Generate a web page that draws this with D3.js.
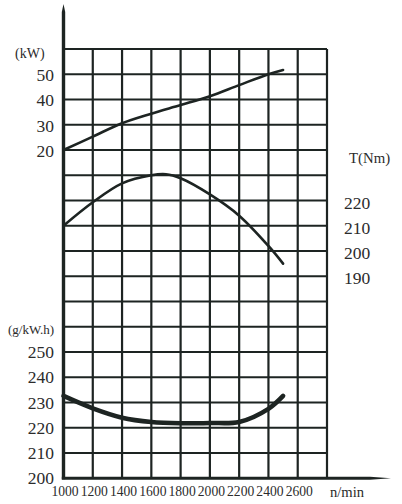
<!DOCTYPE html>
<html>
<head>
<meta charset="utf-8">
<script src="https://cdn.jsdelivr.net/npm/d3@7"></script>
<style>
  html, body { margin: 0; padding: 0; background: #fff; }
  svg { display: block; }
  text { font-family: "Liberation Serif", "Times New Roman", serif; fill: #2b2b2b; }
</style>
</head>
<body>
<svg id="chart" width="402" height="504"></svg>
<script>
// ---- data ----
const rpmGrid = [1000, 1200, 1400, 1600, 1800, 2000, 2200, 2400, 2600, 2800];
const rpmLabels = [1000, 1200, 1400, 1600, 1800, 2000, 2200, 2400, 2600];
const powerTicks = [20, 30, 40, 50];
const torqueTicks = [190, 200, 210, 220];
const fuelTicks = [200, 210, 220, 230, 240, 250];

const powerRpm = [1000, 1200, 1400, 1600, 1800, 2000, 2200, 2400, 2500];
const power = [20, 25.3, 30.6, 34.4, 37.8, 41.3, 45.7, 50, 51.7];

const torqueRpm = [1000, 1200, 1400, 1600, 1700, 1800, 2000, 2200, 2400, 2500];
const torque = [210, 219.3, 226.8, 230, 230.4, 228.8, 222.4, 214, 202, 195];

const fuelRpm = [1000, 1200, 1400, 1600, 1800, 2000, 2200, 2400, 2500];
const fuel = [232.6, 227.7, 224, 222.3, 221.8, 221.9, 222.3, 227.5, 232.6];

// ---- layout ----
(function () {
const svg = d3.select("#chart");
const mLeft = 63.5, mRight = 327, mTop = 49, mBottom = 478.25, rows = 17;
const ink = "#1d2422";

const x = d3.scaleLinear().domain([1000, 2800]).range([mLeft, mRight]);
const row = d3.scaleLinear().domain([0, rows]).range([mTop, mBottom]);
// each row = 10 units on every scale
const yPower = d3.scaleLinear().domain([60, 60 - 10 * rows]).range([mTop, mBottom]);
const yTorque = d3.scaleLinear().domain([280, 280 - 10 * rows]).range([mTop, mBottom]);
const yFuel = d3.scaleLinear().domain([200 + 10 * rows, 200]).range([mTop, mBottom]);

// grid
const g = svg.append("g").attr("stroke", ink).attr("stroke-width", 2.2);
g.selectAll("line.h").data(d3.range(0, rows)).join("line")
  .attr("class", "h")
  .attr("x1", mLeft).attr("x2", mRight)
  .attr("y1", d => row(d)).attr("y2", d => row(d));
g.selectAll("line.v").data(rpmGrid.slice(1)).join("line")
  .attr("class", "v")
  .attr("x1", d => x(d)).attr("x2", d => x(d))
  .attr("y1", mTop).attr("y2", mBottom);

// axes (tapered ends)
svg.append("path")
  .attr("d", `M${mLeft - 1.7},${mBottom + 1} L${mLeft - 1.7},12 L${mLeft},4 L${mLeft + 1.7},12 L${mLeft + 1.7},${mBottom + 1} Z`)
  .attr("fill", ink);
svg.append("path")
  .attr("d", `M${mLeft - 1.7},${mBottom - 1.6} L370,${mBottom - 1.4} L391,${mBottom} L370,${mBottom + 1.4} L${mLeft - 1.7},${mBottom + 1.6} Z`)
  .attr("fill", ink);

// curves
function drawCurve(xs, ys, yScale, width) {
  const pts = xs.map((r, i) => [x(r), yScale(ys[i])]);
  svg.append("path")
    .attr("d", d3.line().curve(d3.curveCatmullRom.alpha(0.5))(pts))
    .attr("fill", "none").attr("stroke", ink)
    .attr("stroke-width", width).attr("stroke-linecap", "round");
}
drawCurve(powerRpm, power, yPower, 2.6);
drawCurve(torqueRpm, torque, yTorque, 2.6);
drawCurve(fuelRpm, fuel, yFuel, 4.6);

// labels
const txt = svg.append("g");
txt.selectAll("text.p").data(powerTicks).join("text").attr("class", "p")
  .attr("x", 54).attr("y", d => yPower(d) + 6.8)
  .attr("text-anchor", "end").attr("font-size", 17.5).text(d => d);
txt.selectAll("text.f").data(fuelTicks).join("text").attr("class", "f")
  .attr("x", 54).attr("y", d => yFuel(d) + 6)
  .attr("text-anchor", "end").attr("font-size", 17.5).text(d => d);
txt.selectAll("text.t").data(torqueTicks).join("text").attr("class", "t")
  .attr("x", 344).attr("y", d => yTorque(d) + 8)
  .attr("text-anchor", "start").attr("font-size", 17.5).text(d => d);
txt.selectAll("text.x").data(rpmLabels).join("text").attr("class", "x")
  .attr("x", d => x(d) + 1.5).attr("y", 496)
  .attr("text-anchor", "middle").attr("font-size", 13.6).text(d => d);

txt.append("text").attr("x", 15).attr("y", 58).attr("font-size", 14).text("(kW)");
txt.append("text").attr("x", 8).attr("y", 334).attr("font-size", 13).text("(g/kW.h)");
txt.append("text").attr("x", 349).attr("y", 163).attr("font-size", 14.8).text("T(Nm)");
txt.append("text").attr("x", 330).attr("y", 497).attr("font-size", 14.6).text("n/min");
})();
</script>
</body>
</html>
